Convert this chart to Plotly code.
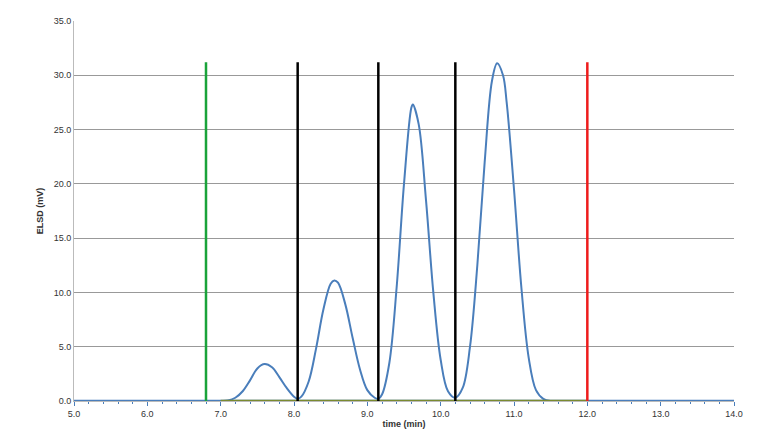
import plotly.graph_objects as go

# chromatogram
time_min = [5.0, 6.0, 7.0, 7.1, 7.2, 7.3, 7.4, 7.5, 7.6, 7.7, 7.8, 7.9, 8.0, 8.05,
            8.1, 8.2, 8.3, 8.4, 8.5, 8.55, 8.6, 8.7, 8.8, 8.9, 9.0, 9.1, 9.15,
            9.2, 9.3, 9.4, 9.5, 9.6, 9.62, 9.7, 9.8, 9.9, 10.0, 10.1, 10.2,
            10.3, 10.4, 10.5, 10.6, 10.7, 10.77, 10.85, 10.9, 11.0, 11.1, 11.2,
            11.3, 11.4, 11.5, 12.0, 13.0, 14.0]
elsd_mv = [0.0, 0.0, 0.0, 0.05, 0.3, 0.9, 1.9, 3.0, 3.4, 3.1, 2.2, 1.2, 0.4, 0.2,
           0.4, 1.8, 4.8, 8.4, 10.8, 11.1, 10.9, 8.9, 5.8, 2.9, 1.0, 0.3, 0.2,
           0.6, 3.5, 10.5, 20.0, 27.0, 27.3, 25.5, 18.5, 10.0, 3.8, 0.9, 0.3,
           1.2, 5.0, 12.5, 22.0, 29.5, 31.1, 30.0, 27.5, 19.5, 10.5, 4.0,
           1.0, 0.2, 0.0, 0.0, 0.0, 0.0]

cut_times = [6.8, 8.05, 9.15, 10.2, 12.0]
cut_colors = ["#1aa33a", "black", "black", "black", "#ee1c1c"]
cut_top = 31.2

fig = go.Figure()
fig.add_trace(go.Scatter(x=[5.0, 14.0], y=[0.05, 0.05], mode="lines",
                         line=dict(color="#4a7ebb", width=1.5), showlegend=False))
fig.add_trace(go.Scatter(x=time_min, y=elsd_mv, mode="lines", line_shape="spline",
                         line=dict(color="#4a7ebb", width=2), showlegend=False))
fig.add_trace(go.Scatter(x=[7.0, 12.0], y=[0.05, 0.05], mode="lines",
                         line=dict(color="#7a8a30", width=1.5), showlegend=False))
for t, c in zip(cut_times, cut_colors):
    fig.add_trace(go.Scatter(x=[t, t], y=[0, cut_top], mode="lines",
                             line=dict(color=c, width=2.5), showlegend=False))

fig.update_layout(
    width=768, height=432, plot_bgcolor="white", paper_bgcolor="white",
    margin=dict(l=66, r=42, t=8, b=39),
    font=dict(family="Liberation Sans", size=9, color="#333"),
    xaxis=dict(range=[5, 14], dtick=1, tickformat=".1f", showgrid=False,
               showline=True, linecolor="#bbb", ticks="outside", tickcolor="#4a7ebb",
               ticklen=4, minor=dict(dtick=0.2, ticks="outside", ticklen=2, tickcolor="#4a7ebb"),
               title=dict(text="<b>time (min)</b>", font=dict(size=9), standoff=2)),
    yaxis=dict(range=[0, 35], dtick=5, tickformat=".1f", showgrid=True, gridcolor="#999",
               showline=True, linecolor="#bbb", zeroline=False,
               title=dict(text="<b>ELSD (mV)</b>", font=dict(size=9), standoff=8)),
)
fig.write_html("out.html")
